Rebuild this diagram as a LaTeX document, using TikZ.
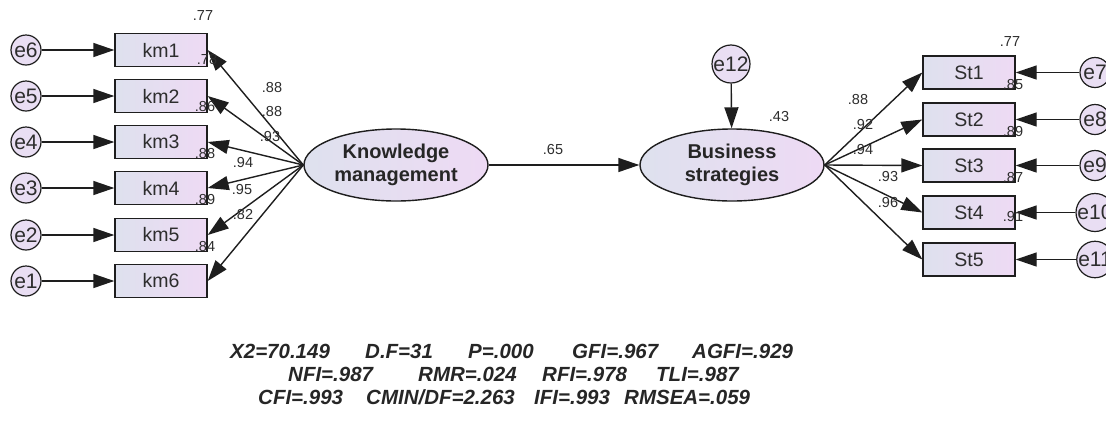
\documentclass[tikz,border=0pt]{standalone}
\usepackage{fontspec}
\setmainfont{Liberation Sans}
\usetikzlibrary{arrows.meta,shapes.geometric}
\definecolor{ln}{RGB}{30,30,30}
\definecolor{tx}{RGB}{45,45,45}
\definecolor{fl}{RGB}{222,225,238}
\definecolor{fr}{RGB}{238,218,244}
\definecolor{ec}{RGB}{233,222,243}
\begin{document}
\begin{tikzpicture}[x=1pt,y=-1pt,
  obs/.style={draw=ln, line width=1.4pt, minimum width=92pt, minimum height=33pt, inner sep=0pt,
    left color=fl, right color=fr, font=\fontsize{19.5}{19.5}\selectfont, text=tx},
  lat/.style={ellipse, draw=ln, line width=1.4pt, minimum width=184pt, minimum height=72pt, inner sep=0pt,
    left color=fl, right color=fr, font=\bfseries\fontsize{20}{23}\selectfont, align=center, text=black!85},
  err/.style={circle, draw=ln, line width=1.2pt, fill=ec, minimum size=30pt, inner sep=0pt,
    font=\fontsize{21}{21}\selectfont, text=tx},
  arr/.style={draw=ln, line width=1.4pt, -{Triangle[length=21pt,width=14pt]}},
  num/.style={font=\fontsize{14.5}{14.5}\selectfont, text=tx, inner sep=0pt},
  fitx/.style={font=\bfseries\itshape\fontsize{20.5}{20.5}\selectfont, anchor=base west, inner sep=0pt, text=black!85}
]
\clip (0,0) rectangle (1106,424);
\fill[white] (0,0) rectangle (1106,424);

% latent variables
\node[lat] (KM) at (396,165) {Knowledge\\management};
\node[lat] (BS) at (732,165) {Business\\strategies};
\node[err, minimum size=38pt] (e12) at (731,64) {e12};

% left indicators
\foreach \i/\y/\e in {1/50/6,2/96/5,3/142/4,4/188/3,5/235/2,6/281/1}{
  \node[obs] (km\i) at (161,\y) {km\i};
  \node[err] (e\e) at (26,\y) {e\e};
  \draw[arr] (e\e) -- (km\i);
  \draw[arr] (KM.west) -- (km\i.east);
}

% right indicators
\foreach \i/\y/\e in {1/72.5/7,2/119.5/8,3/165.5/9,4/212.5/10,5/259.5/11}{
  \node[obs] (St\i) at (969,\y) {St\i};
  \node[err] (e\e) at (1095,\y) {e\e};
  \draw[arr] (e\e) -- (St\i);
  \draw[arr] (BS.east) -- (St\i.west);
}

\draw[arr] (KM) -- (BS);
\draw[arr] (e12) -- (BS);

% numbers
\node[num] at (203,16) {.77};
\node[num] at (207,60) {.78};
\node[num] at (205,107) {.86};
\node[num] at (205,154) {.88};
\node[num] at (205,200) {.89};
\node[num] at (205,247) {.84};
\node[num] at (272,88) {.88};
\node[num] at (272,112) {.88};
\node[num] at (270,137) {.93};
\node[num] at (243,163) {.94};
\node[num] at (242,190) {.95};
\node[num] at (243,215) {.82};
\node[num] at (553,150) {.65};
\node[num] at (779,117) {.43};
\node[num] at (1010,42) {.77};
\node[num] at (1013,85) {.85};
\node[num] at (1013,132) {.89};
\node[num] at (1013,178) {.87};
\node[num] at (1013,217) {.91};
\node[num] at (858,100) {.88};
\node[num] at (863,125) {.92};
\node[num] at (863,150) {.94};
\node[num] at (888,177) {.93};
\node[num] at (888,203) {.96};

% fit indices
\node[fitx] at (230,358) {X2=70.149};
\node[fitx] at (365,358) {D.F=31};
\node[fitx] at (468,358) {P=.000};
\node[fitx] at (572,358) {GFI=.967};
\node[fitx] at (692,358) {AGFI=.929};
\node[fitx] at (288,381) {NFI=.987};
\node[fitx] at (418,381) {RMR=.024};
\node[fitx] at (542,381) {RFI=.978};
\node[fitx] at (656,381) {TLI=.987};
\node[fitx] at (258,404) {CFI=.993};
\node[fitx] at (366,404) {CMIN/DF=2.263};
\node[fitx] at (534,404) {IFI=.993};
\node[fitx] at (624,404) {RMSEA=.059};
\end{tikzpicture}
\end{document}
